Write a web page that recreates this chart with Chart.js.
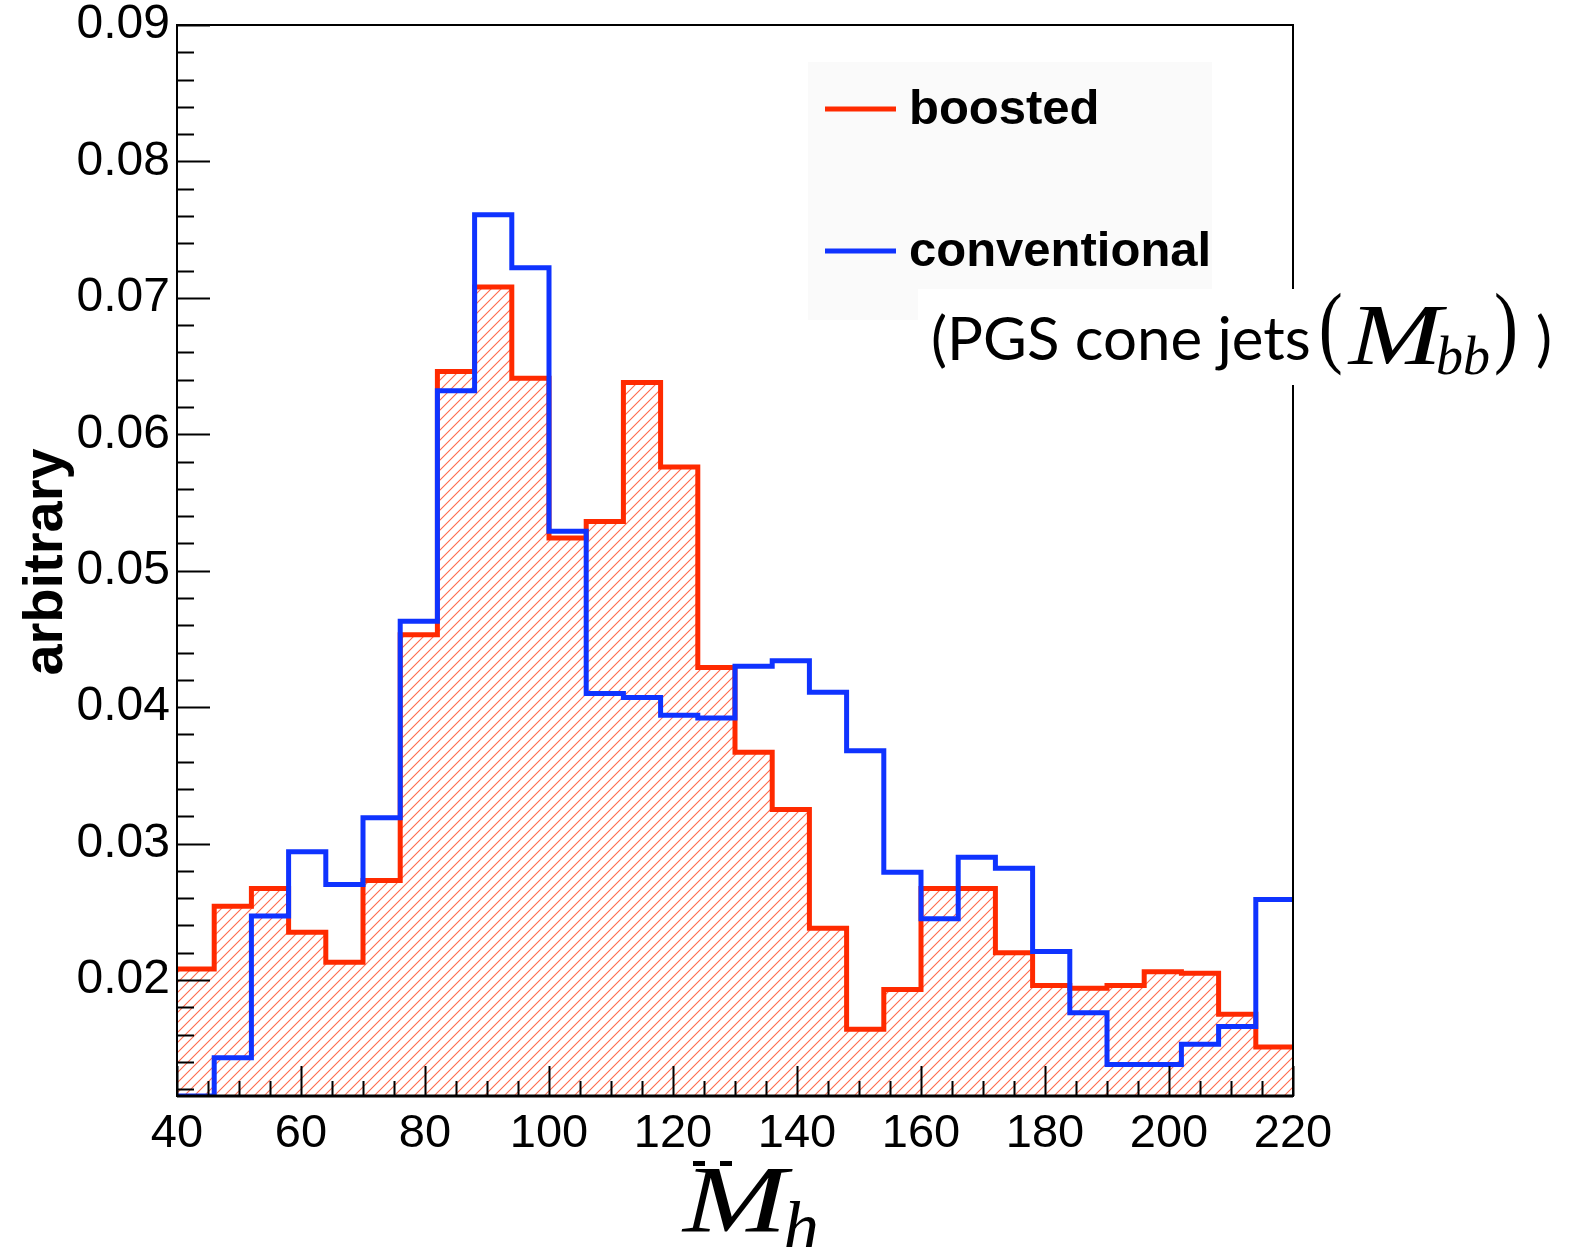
<!DOCTYPE html>
<html>
<head>
<meta charset="utf-8">
<script src="https://cdn.jsdelivr.net/npm/chart.js@4"></script>
<style>
  html, body { margin: 0; padding: 0; background: #fff; }
  #wrap { width: 1572px; height: 1247px; position: relative; }
</style>
</head>
<body>
<div id="wrap"><canvas id="c" width="1572" height="1247"></canvas></div>
<script>
// ─────────────────────────────────────────────
// data
// ─────────────────────────────────────────────
const binStarts = [40, 46, 52, 58, 64, 70, 76, 82, 88, 94, 100, 106, 112, 118, 124,
                   130, 136, 142, 148, 154, 160, 166, 172, 178, 184, 190, 196, 202, 208, 214];
const binEnd = 220;

const boosted = [0.0208, 0.0254, 0.0267, 0.0235, 0.0213, 0.0273, 0.0453, 0.0646, 0.0708, 0.0641,
                 0.0524, 0.0536, 0.0638, 0.0576, 0.0429, 0.0367, 0.0325, 0.0238, 0.0164, 0.0193,
                 0.0267, 0.0267, 0.0220, 0.0196, 0.0194, 0.0196, 0.0206, 0.0205, 0.0175, 0.0151];

const conventional = [0.0115, 0.0143, 0.0247, 0.0294, 0.0270, 0.0319, 0.0463, 0.0632, 0.0761, 0.0722,
                      0.0529, 0.0410, 0.0407, 0.0394, 0.0392, 0.0430, 0.0434, 0.0411, 0.0368, 0.0279,
                      0.0245, 0.0290, 0.0282, 0.0221, 0.0176, 0.0138, 0.0138, 0.0153, 0.0166, 0.0259];

const xTickVals = [40, 60, 80, 100, 120, 140, 160, 180, 200, 220];
const yTickVals = [0.02, 0.03, 0.04, 0.05, 0.06, 0.07, 0.08, 0.09];
const xMinorStep = 5;
const yMinorStep = 0.002;

const RED = '#ff2a00';
const BLUE = '#0f33ff';
const SANS = '"Liberation Sans", Arial, sans-serif';
const SERIF = '"Liberation Serif", "Times New Roman", serif';
const GILL = 'Lato, "Open Sans", sans-serif';

const canvas = document.getElementById('c');
const ctx2d = canvas.getContext('2d');

// histogram -> step points (left edges + closing right edge)
function steps(vals) {
  const pts = binStarts.map((x, i) => ({ x: x, y: vals[i] }));
  pts.push({ x: binEnd, y: vals[vals.length - 1] });
  return pts;
}

function hatchPattern(color) {
  const sz = 10;
  const c = document.createElement('canvas');
  c.width = sz; c.height = sz;
  const g = c.getContext('2d');
  g.strokeStyle = color;
  g.lineWidth = 1.1;
  g.beginPath();
  g.moveTo(0, sz); g.lineTo(sz, 0);
  g.moveTo(-sz / 2, sz / 2); g.lineTo(sz / 2, -sz / 2);
  g.moveTo(sz / 2, sz * 1.5); g.lineTo(sz * 1.5, sz / 2);
  g.stroke();
  return ctx2d.createPattern(c, 'repeat');
}

// ROOT-ish frame with inward ticks
const framePlugin = {
  id: 'frame',
  afterDatasetsDraw(chart) {
    const { ctx, chartArea: a, scales: { x, y } } = chart;
    ctx.save();
    ctx.strokeStyle = '#000';
    ctx.lineWidth = 2;
    ctx.strokeRect(a.left, a.top, a.right - a.left, a.bottom - a.top);
    ctx.beginPath();
    const yMinors = [];
    for (let k = Math.ceil(y.min / yMinorStep - 1e-6); k * yMinorStep <= y.max + 1e-9; k++) yMinors.push(k * yMinorStep);
    yMinors.forEach(v => {
      const py = Math.round(y.getPixelForValue(v)) + 0.5;
      const major = yTickVals.some(t => Math.abs(t - v) < 1e-6);
      ctx.moveTo(a.left, py); ctx.lineTo(a.left + (major ? 33 : 17), py);
    });
    for (let v = x.min; v <= x.max + 1e-9; v += xMinorStep) {
      const px = Math.round(x.getPixelForValue(v)) + 0.5;
      const major = xTickVals.includes(v);
      ctx.moveTo(px, a.bottom); ctx.lineTo(px, a.bottom - (major ? 30 : 15));
    }
    ctx.stroke();
    ctx.lineWidth = 3;
    ctx.beginPath(); ctx.moveTo(a.left, a.bottom); ctx.lineTo(a.right, a.bottom); ctx.stroke();
    ctx.restore();
  }
};

// draw text stretched horizontally, returns advance
function wideText(ctx, txt, x, y, sx) {
  ctx.save();
  ctx.translate(x, y);
  ctx.scale(sx, 1);
  ctx.fillText(txt, 0, 0);
  ctx.restore();
  return ctx.measureText(txt).width * sx;
}

// legend, axis titles, annotation
const textPlugin = {
  id: 'texts',
  afterDraw(chart) {
    const { ctx } = chart;
    ctx.save();

    // legend box
    ctx.fillStyle = '#fafafa';
    ctx.fillRect(808, 62, 404, 258);
    const rowY = [109, 251];
    chart.data.datasets.forEach((ds, i) => {
      ctx.strokeStyle = ds.borderColor;
      ctx.lineWidth = 5;
      ctx.beginPath(); ctx.moveTo(825, rowY[i]); ctx.lineTo(896, rowY[i]); ctx.stroke();
      ctx.fillStyle = '#000';
      ctx.font = 'bold 49px ' + SANS;
      ctx.textBaseline = 'middle';
      ctx.textAlign = 'left';
      ctx.fillText(ds.label, 909, rowY[i] + 1);
    });

    // annotation box (covers frame)
    ctx.fillStyle = '#fff';
    ctx.fillRect(918, 289, 654, 96);
    ctx.fillStyle = '#000';
    ctx.textBaseline = 'alphabetic';
    let cx = 931;
    const base = 360;
    ctx.font = '60px ' + GILL;
    ctx.fillText('(PGS cone jets', cx, base);
    cx += ctx.measureText('(PGS cone jets').width + 8;
    ctx.font = '90px ' + SERIF;
    cx += wideText(ctx, '(', cx, base - 4, 0.8) + 6;
    ctx.font = 'italic 86px ' + SERIF;
    cx += wideText(ctx, 'M', cx, base + 4, 1.3) - 6;
    ctx.font = 'italic 54px ' + SERIF;
    cx += wideText(ctx, 'bb', cx, base + 14, 1.0) + 4;
    ctx.font = '90px ' + SERIF;
    cx += wideText(ctx, ')', cx, base - 4, 0.8) + 18;
    ctx.font = '60px ' + GILL;
    ctx.fillText(')', cx, base);

    // y title
    ctx.save();
    ctx.translate(62, 562);
    ctx.rotate(-Math.PI / 2);
    ctx.font = 'bold 56px ' + SANS;
    ctx.textAlign = 'center';
    ctx.textBaseline = 'alphabetic';
    ctx.fillText('arbitrary', 0, 0);
    ctx.restore();

    // x title  M̈_h
    ctx.textAlign = 'left';
    ctx.font = 'italic 96px ' + SERIF;
    wideText(ctx, 'M', 683, 1232, 1.3);
    ctx.fillRect(693, 1161, 12, 5);
    ctx.fillRect(720, 1161, 12, 5);
    ctx.font = 'italic 72px ' + SERIF;
    ctx.fillText('h', 783, 1251);

    ctx.restore();
  }
};

new Chart(canvas, {
  type: 'line',
  data: {
    datasets: [
      {
        label: 'boosted',
        data: steps(boosted),
        borderColor: RED,
        backgroundColor: hatchPattern('#ff6a4d'),
        borderWidth: 5,
        stepped: true,
        fill: 'start',
        pointRadius: 0,
        borderJoinStyle: 'miter',
        order: 2
      },
      {
        label: 'conventional',
        data: steps(conventional),
        borderColor: BLUE,
        borderWidth: 5,
        stepped: true,
        fill: false,
        pointRadius: 0,
        borderJoinStyle: 'miter',
        order: 1
      }
    ]
  },
  options: {
    responsive: false,
    animation: false,
    devicePixelRatio: 1,
    layout: { padding: { left: 0, right: 279, top: 25, bottom: 91 } },
    plugins: { legend: { display: false }, tooltip: { enabled: false } },
    scales: {
      x: {
        type: 'linear', min: 40, max: 220,
        afterBuildTicks: s => { s.ticks = xTickVals.map(v => ({ value: v })); },
        afterFit: s => { s.height = 60; s.paddingLeft = 0; s.paddingRight = 0; },
        grid: { display: false, drawTicks: false },
        border: { display: false },
        ticks: { autoSkip: false, maxRotation: 0, color: '#000', padding: 10, font: { family: SANS, size: 47 } }
      },
      y: {
        type: 'linear', min: 0.0115, max: 0.09,
        afterBuildTicks: s => { s.ticks = yTickVals.map(v => ({ value: v })); },
        afterFit: s => { s.width = 177; s.paddingTop = 0; s.paddingBottom = 0; },
        grid: { display: false, drawTicks: false },
        border: { display: false },
        ticks: { color: '#000', padding: 7, font: { family: SANS, size: 48 }, callback: v => Number(v).toFixed(2) }
      }
    }
  },
  plugins: [framePlugin, textPlugin]
});
</script>
</body>
</html>
